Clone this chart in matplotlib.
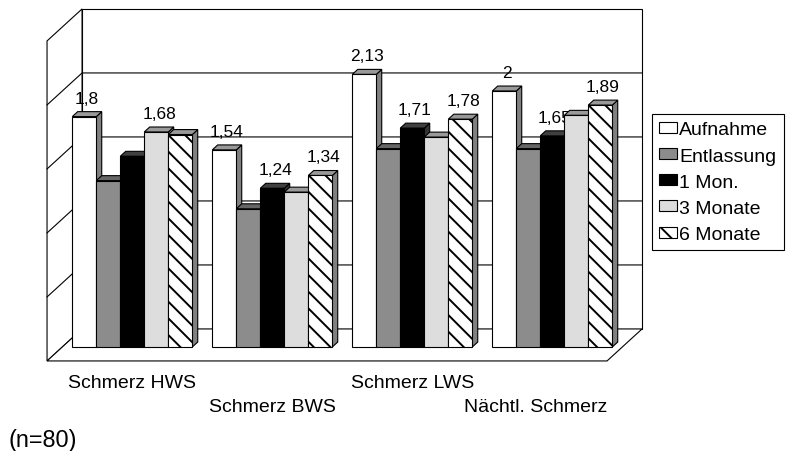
import matplotlib.pyplot as plt
from matplotlib.patches import Polygon, Patch

plt.rcParams['font.family'] = ['Liberation Sans', 'DejaVu Sans']
plt.rcParams['hatch.linewidth'] = 1.4

categories = ['Schmerz HWS', 'Schmerz BWS', 'Schmerz LWS', 'Nächtl. Schmerz']
series = ['Aufnahme', 'Entlassung', '1 Mon.', '3 Monate', '6 Monate']
aufnahme = [1.8, 1.54, 2.13, 2.0]
entlassung = [1.30, 1.08, 1.55, 1.55]
mon1 = [1.49, 1.24, 1.71, 1.65]
mon3 = [1.68, 1.21, 1.64, 1.81]
mon6 = [1.66, 1.34, 1.78, 1.89]
values = [aufnahme, entlassung, mon1, mon3, mon6]
# which bars carry a value label
shown = [
    [True, True, True, True],
    [False, False, False, False],
    [False, True, True, True],
    [True, False, False, False],
    [False, True, True, True],
]
y_ticks = [0, 0.5, 1.0, 1.5, 2.0, 2.5]

# face colours: front, top, side
front_c = ['white', '#8c8c8c', 'black', '#dddddd', 'white']
top_c = ['#999999', '#666666', '#404040', '#9a9a9a', '#999999']
side_c = ['#808080', '#555555', '#333333', '#808080', '#808080']
hatches = [None, None, None, None, '\\\\']

# oblique projection: depth t runs 0 (front) .. 1 (back wall)
DEPTH = 0.25
T_BAR = 0.436
BAR_D = 0.155
GAP = 10 / 140
LW = 0.8


def proj(x, v, t):
    return x + (t - T_BAR) * DEPTH, v + (t - T_BAR) * DEPTH


fig = plt.figure(figsize=(7.87, 4.52), dpi=100)
ax = fig.add_axes([0, 0, 1, 1])
ax.set_xlim(-62.3 / 140, (787 - 62.3) / 140)
ax.set_ylim(-104 / 128, 348 / 128)
ax.axis('off')

n = len(categories)
vmax = y_ticks[-1]

# walls and floor
walls = [
    [proj(0, 0, 1), proj(n, 0, 1), proj(n, vmax, 1), proj(0, vmax, 1)],
    [proj(0, 0, 0), proj(0, 0, 1), proj(0, vmax, 1), proj(0, vmax, 0)],
    [proj(0, 0, 0), proj(n, 0, 0), proj(n, 0, 1), proj(0, 0, 1)],
]
for w in walls:
    ax.add_patch(Polygon(w, closed=True, facecolor='white', edgecolor='black', lw=LW, zorder=1))

for v in y_ticks[1:-1]:
    pts = [proj(0, v, 0), proj(0, v, 1), proj(n, v, 1)]
    ax.plot([p[0] for p in pts], [p[1] for p in pts], color='black', lw=LW, zorder=2)

bw = (1 - 2 * GAP) / len(series)
for i in range(n):
    for j, vals in enumerate(values):
        v = vals[i]
        x0 = i + GAP + j * bw
        x1 = x0 + bw
        z = 10 + i * 20 + j * 3
        side = [proj(x1, 0, T_BAR), proj(x1, 0, T_BAR + BAR_D),
                proj(x1, v, T_BAR + BAR_D), proj(x1, v, T_BAR)]
        top = [proj(x0, v, T_BAR), proj(x1, v, T_BAR),
               proj(x1, v, T_BAR + BAR_D), proj(x0, v, T_BAR + BAR_D)]
        front = [proj(x0, 0, T_BAR), proj(x1, 0, T_BAR),
                 proj(x1, v, T_BAR), proj(x0, v, T_BAR)]
        ax.add_patch(Polygon(side, closed=True, facecolor=side_c[j], edgecolor='black', lw=LW, zorder=z))
        ax.add_patch(Polygon(top, closed=True, facecolor=top_c[j], edgecolor='black', lw=LW, zorder=z))
        ax.add_patch(Polygon(front, closed=True, facecolor=front_c[j], edgecolor='black',
                             hatch=hatches[j], lw=LW, zorder=z))
        if shown[j][i]:
            cx, _ = proj((x0 + x1) / 2, v, T_BAR + BAR_D / 2)
            ax.text(cx, v + 14 / 128, f'{v:g}'.replace('.', ','), ha='center', va='baseline',
                    fontsize=12.5, zorder=z + 1)

# category labels, staggered on two rows
right_edge = proj(n, 0, 0)[0]
for i, cat in enumerate(categories):
    y = -0.315 if i % 2 == 0 else -0.498
    if i == n - 1:
        ax.text(right_edge, y, cat, ha='right', va='baseline', fontsize=14)
    else:
        ax.text(i + 0.5, y, cat, ha='center', va='baseline', fontsize=14)

handles = [Patch(facecolor=front_c[j], edgecolor='black', hatch=hatches[j], lw=LW)
           for j in range(len(series))]
leg = fig.legend(handles, series, loc='upper left', bbox_to_anchor=(652 / 787, 1 - 115 / 452),
                 fontsize=14, frameon=True, fancybox=False, edgecolor='black', framealpha=1,
                 borderpad=0.38, handlelength=0.9, handleheight=0.5, handletextpad=0.12,
                 labelspacing=0.47, borderaxespad=0)
leg.get_frame().set_linewidth(LW)

fig.text(8 / 787, 1 - 447 / 452, '(n=80)', fontsize=16.8, va='baseline')

fig.savefig('out.png', dpi=100)
